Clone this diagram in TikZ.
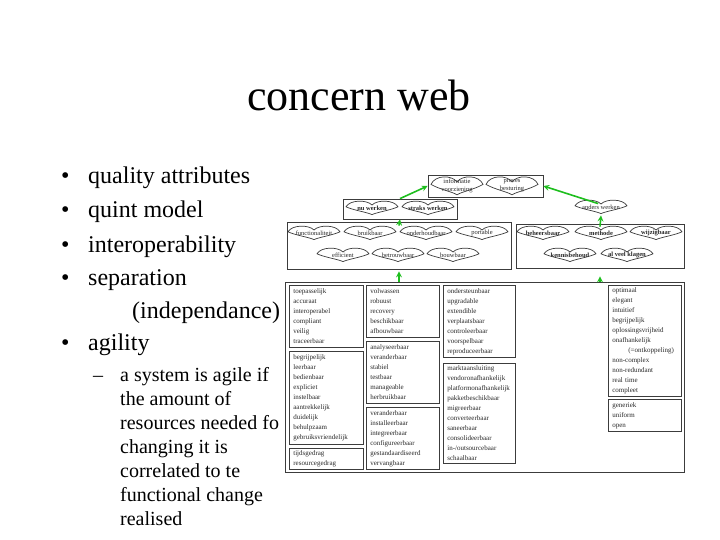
\documentclass[tikz,border=0pt]{standalone}
\usepackage{fontspec}
\setmainfont{Liberation Serif}
\usetikzlibrary{calc}
\definecolor{arrowgreen}{RGB}{30, 190, 30}
\definecolor{boxline}{RGB}{60, 60, 60}
\definecolor{webtext}{RGB}{40, 40, 40}

\begin{document}
\begin{tikzpicture}[x=1pt, y=-1pt,
    bigtext/.style={anchor=base west, inner sep=0pt, font=\fontsize{24}{28}\selectfont},
    subtext/.style={anchor=base west, inner sep=0pt, font=\fontsize{20}{24}\selectfont},
    groupbox/.style={draw=boxline, line width=0.8pt, fill=white, inner sep=0pt},
    listbox/.style={draw=boxline, line width=0.7pt, anchor=north west, align=left, inner xsep=4pt, inner ysep=0pt, text=webtext, font=\fontsize{7}{10}\selectfont},
    heartlabel/.style={inner sep=0pt, align=center, text=webtext, font=\fontsize{6.5}{8}\selectfont},
    heartline/.style={draw=boxline, line width=0.7pt},
    greenarrow/.style={->, >=stealth, draw=arrowgreen, line width=1.6pt}]
  \useasboundingbox (0, 0) rectangle (720, 540);

  \node[anchor=base, inner sep=0pt, font=\fontsize{44}{48}\selectfont] (title) at (359, 111) {concern web};

  \foreach \t/\y [count=\i] in {quality attributes/184, quint model/218, interoperability/252, separation/285, agility/350} {
    \node[bigtext] (dot\i) at (61, \y) {\textbullet};
    \node[bigtext] (point\i) at (88, \y) {\t};
  }
  \node[bigtext] (point4b) at (132, 318) {(independance)};
  \node[subtext] (dash) at (93, 381) {\textendash};
  \foreach \t [count=\i] in {a system is agile if, the amount of, resources needed fo, changing it is, correlated to te, functional change, realised} {
    \node[subtext] (line\i) at (120, {357 + 24 * \i}) {\t};
  }

  \node[groupbox, minimum width=115pt, minimum height=22pt] (infobox) at (485.5, 186) {};
  \node[groupbox, minimum width=114pt, minimum height=20pt] (nowbox) at (400, 209) {};
  \node[groupbox, minimum width=224pt, minimum height=47pt] (qualbox) at (399, 245.5) {};
  \node[groupbox, minimum width=168pt, minimum height=44pt] (agilebox) at (600, 246) {};
  \node[groupbox, minimum width=399pt, minimum height=190pt] (mainbox) at (484.5, 377) {};

  \node[listbox, text width=66pt, minimum height=62pt] (funclist) at (289, 285) {toepasselijk\\accuraat\\interoperabel\\compliant\\veilig\\traceerbaar};
  \node[listbox, text width=66pt, minimum height=93pt] (uselist) at (289, 351) {begrijpelijk\\leerbaar\\bedienbaar\\expliciet\\instelbaar\\aantrekkelijk\\duidelijk\\behulpzaam\\gebruiksvriendelijk};
  \node[listbox, text width=66pt, minimum height=21pt] (efflist) at (289, 448) {tijdsgedrag\\resourcegedrag};
  \node[listbox, text width=65pt, minimum height=52pt] (rellist) at (366, 285) {volwassen\\robuust\\recovery\\beschikbaar\\afbouwbaar};
  \node[listbox, text width=65pt, minimum height=62pt] (maintlist) at (366, 341) {analyseerbaar\\veranderbaar\\stabiel\\testbaar\\manageable\\herbruikbaar};
  \node[listbox, text width=65pt, minimum height=62pt] (portlist) at (366, 407) {veranderbaar\\installeerbaar\\integreerbaar\\configureerbaar\\gestandaardiseerd\\vervangbaar};
  \node[listbox, text width=64pt, minimum height=72pt] (evollist) at (443, 285) {ondersteunbaar\\upgradable\\extendible\\verplaatsbaar\\controleerbaar\\voorspelbaar\\reproduceerbaar};
  \node[listbox, text width=64pt, minimum height=100pt] (marketlist) at (443, 363) {marktaansluiting\\vendoronafhankelijk\\platformonafhankelijk\\pakketbeschikbaar\\migreerbaar\\converteerbaar\\saneerbaar\\consolideerbaar\\in-/outsourcebaar\\schaalbaar};
  \node[listbox, text width=65pt, minimum height=111pt] (methodlist) at (608, 285) {optimaal\\elegant\\intuitief\\begrijpelijk\\oplossingsvrijheid\\onafhankelijk\\\hspace*{16pt}(=ontkoppeling)\\non-complex\\non-redundant\\real time\\compleet};
  \node[listbox, text width=65pt, minimum height=32pt] (genlist) at (608, 399) {generiek\\uniform\\open};

  \foreach \n/\x/\y/\h/\t in {info/457/186/8/{informatie\\voorziening}, proces/512/186/8/{proces\\besturing}, nu/372/208/6/{\textbf{nu werken}}, straks/428/208/6/{\textbf{straks werken}}, anders/601/207/6/{anders werken}, func/314/233/6/{functionaliteit}, bruik/370/233/6/{bruikbaar}, onder/426/233/6/{onderhoudbaar}, port/482/233/6/{portable}, eff/343/255/6/{efficient}, betrouw/398/255/6/{betrouwbaar}, bouw/453/255/6/{bouwbaar}, beheer/543/233/6/{\textbf{beheersbaar}}, methode/601/233/6/{\textbf{methode}}, wijzig/656/233/6/{\textbf{wijzigbaar}}, kennis/570/255/6/{\textbf{kennisbehoud}}, klagen/627/255/6/{\textbf{al veel klagen}}} {
    \node[heartlabel] (\n) at (\x, \y) {\t};
    \draw[heartline] ($(\n)+(0,-0.5*\h)$) .. controls ($(\n)+(-5,-1.4*\h)$) and ($(\n)+(-22,-1.4*\h)$) .. ($(\n)+(-26,-0.2*\h)$) .. controls ($(\n)+(-18,0.4*\h)$) and ($(\n)+(-5,0.7*\h)$) .. ($(\n)+(0,1.1*\h)$) .. controls ($(\n)+(5,0.7*\h)$) and ($(\n)+(18,0.4*\h)$) .. ($(\n)+(26,-0.2*\h)$) .. controls ($(\n)+(22,-1.4*\h)$) and ($(\n)+(5,-1.4*\h)$) .. cycle;
  }

  \draw[greenarrow] (nowbox.north) -- (infobox.west);
  \draw[greenarrow, shorten <=3pt] (anders.north) -- (infobox.east);
  \draw[greenarrow] ($(qualbox.north)+(0,4)$) -- (nowbox.south);
  \draw[greenarrow] ($(agilebox.north)+(0,3)$) -- ($(anders.south)+(0,6)$);
  \draw[greenarrow] (qualbox.south |- mainbox.north) -- ($(qualbox.south)+(0,2)$);
  \draw[greenarrow] (agilebox.south |- mainbox.north) -- ($(agilebox.south)+(0,8)$);
\end{tikzpicture}
\end{document}
